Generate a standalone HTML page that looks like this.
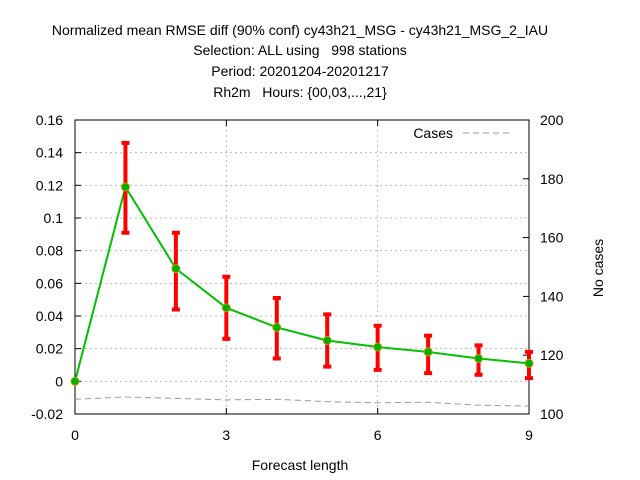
<!DOCTYPE html>
<html><head><meta charset="utf-8"><style>
body{margin:0;background:#fff;}
svg{display:block;font-family:"Liberation Sans",sans-serif;}
svg text{white-space:pre;}
</style></head><body>
<svg id="chart" width="640" height="480">
<g font-size="14" text-anchor="middle" fill="#000">
<text x="300" y="35">Normalized mean RMSE diff (90% conf) cy43h21_MSG - cy43h21_MSG_2_IAU</text>
<text x="300" y="55">Selection: ALL using   998 stations</text>
<text x="300" y="76">Period: 20201204-20201217</text>
<text x="300" y="97">Rh2m   Hours: {00,03,...,21}</text>
</g>
<g id="grid"></g>
<g id="axes"></g>
<g id="marks"></g>
<text x="300" y="470" font-size="14" text-anchor="middle">Forecast length</text>
<text transform="translate(603,268) rotate(-90)" font-size="14" text-anchor="middle">No cases</text>
<g>
<text x="453" y="138" font-size="14" text-anchor="end">Cases</text>
<line x1="463" y1="133" x2="512" y2="133" stroke="#999" stroke-dasharray="6,4"/>
</g>
</svg>
<script>
const steps=[0,1,2,3,4,5,6,7,8,9];
const rmse=[0,0.119,0.069,0.045,0.033,0.025,0.021,0.018,0.014,0.011];
const errLo=[0,0.091,0.044,0.026,0.014,0.009,0.007,0.005,0.004,0.002];
const errHi=[0,0.146,0.091,0.064,0.051,0.041,0.034,0.028,0.022,0.018];
const cases=[105,105.8,105.3,104.8,105,104.2,103.8,104,103,102.7];
const yTicks=[-0.02,0,0.02,0.04,0.06,0.08,0.1,0.12,0.14,0.16];
const yTickLabels=["-0.02","0","0.02","0.04","0.06","0.08","0.1","0.12","0.14","0.16"];
const y2Ticks=[100,120,140,160,180,200];
const xTicks=[0,3,6,9];
const L=75,R=529,T=120,B=414;
const X=v=>L+(v-0)/9*(R-L);
const Y=v=>B-(v+0.02)/0.18*(B-T);
const Y2=v=>B-(v-100)/100*(B-T);
const NS="http://www.w3.org/2000/svg";
function mk(p,tag,attrs,txt){const e=document.createElementNS(NS,tag);for(const k in attrs)e.setAttribute(k,attrs[k]);if(txt!==undefined)e.textContent=txt;p.appendChild(e);return e;}
const grid=document.getElementById('grid'),axes=document.getElementById('axes'),marks=document.getElementById('marks');
yTicks.forEach((t,i)=>{
 if(i>0&&i<yTicks.length-1){const g=mk(grid,'line',{x1:L,x2:R,y1:Y(t),y2:Y(t),stroke:'#bbb','stroke-dasharray':'2,3'});
 
 }
 mk(axes,'line',{x1:L,x2:L+6,y1:Y(t),y2:Y(t),stroke:'#000'});
 const tl=mk(axes,'text',{x:L-12,y:Y(t)+5,'font-size':14,'text-anchor':'end'},yTickLabels[i]);
 
 
});
y2Ticks.forEach(t=>{
 mk(axes,'line',{x1:R-6,x2:R,y1:Y2(t),y2:Y2(t),stroke:'#000'});
 const tl=mk(axes,'text',{x:R+11,y:Y2(t)+5,'font-size':14},String(t));
 
 
});
xTicks.forEach(t=>{
 if(t>0&&t<9){const g=mk(grid,'line',{x1:X(t),x2:X(t),y1:T,y2:B,stroke:'#bbb','stroke-dasharray':'2,3'});
 
 }
 mk(axes,'line',{x1:X(t),x2:X(t),y1:B,y2:B-6,stroke:'#000'});
 mk(axes,'line',{x1:X(t),x2:X(t),y1:T,y2:T+6,stroke:'#000'});
 const tl=mk(axes,'text',{x:X(t),y:B+26,'font-size':14,'text-anchor':'middle'},String(t));
 
 
});
mk(axes,'rect',{x:L,y:T,width:R-L,height:B-T,fill:'none',stroke:'#000'});
const cl=mk(marks,'polyline',{points:steps.map((s,i)=>X(s)+','+Y2(cases[i])).join(' '),fill:'none',stroke:'#999','stroke-dasharray':'6,4'});


const ln=mk(marks,'polyline',{points:steps.map((s,i)=>X(s)+','+Y(rmse[i])).join(' '),fill:'none',stroke:'#00c000','stroke-width':2});


steps.forEach((s,i)=>{
 const x=X(s);
 const eb=mk(marks,'path',{d:`M${x},${Y(errLo[i])}V${Y(errHi[i])}M${x-4},${Y(errLo[i])}H${x+4}M${x-4},${Y(errHi[i])}H${x+4}`,stroke:'#f00','stroke-width':4,fill:'none'});
 
 
});
steps.forEach((s,i)=>{
 const p=mk(marks,'circle',{cx:X(s),cy:Y(rmse[i]),r:4,fill:'#00b000',stroke:'#b0a000','stroke-width':1});
 
 
});
</script>
</body></html>
